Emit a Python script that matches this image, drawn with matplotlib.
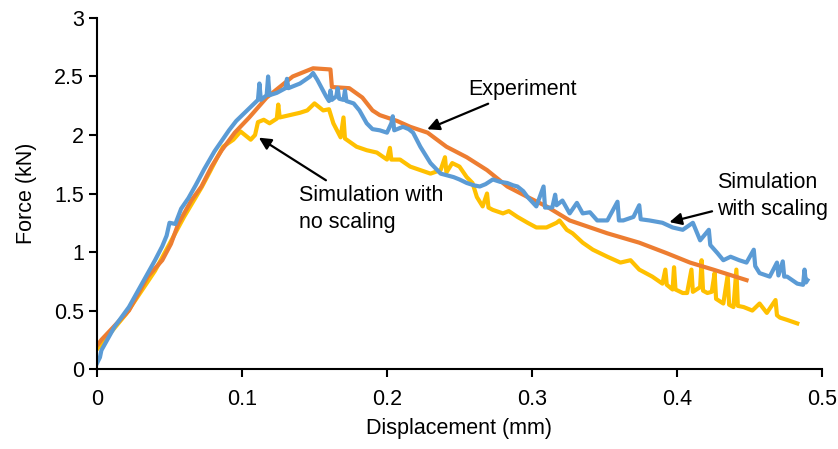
import numpy as np
from matplotlib import pyplot as plt
from matplotlib.ticker import FuncFormatter

# Experiment (orange)
exp_x = [0.000, 0.003, 0.022, 0.035, 0.045, 0.051, 0.056, 0.065, 0.072, 0.079,
         0.086, 0.095, 0.105, 0.117, 0.135, 0.149, 0.161, 0.162, 0.174, 0.183,
         0.190, 0.195, 0.207, 0.216, 0.228, 0.241, 0.255, 0.269, 0.283, 0.297,
         0.310, 0.326, 0.352, 0.374, 0.393, 0.409, 0.425, 0.448]
exp_y = [0.20, 0.25, 0.50, 0.79, 0.93, 1.07, 1.24, 1.44, 1.56, 1.73,
         1.87, 2.02, 2.15, 2.32, 2.50, 2.57, 2.56, 2.41, 2.40, 2.32,
         2.21, 2.17, 2.12, 2.07, 2.02, 1.90, 1.81, 1.70, 1.56, 1.47,
         1.39, 1.27, 1.16, 1.08, 0.99, 0.91, 0.85, 0.76]

# Simulation with scaling (blue)
scl_x = [0.000, 0.002, 0.003, 0.012, 0.022, 0.031, 0.040, 0.045, 0.048, 0.050,
         0.054, 0.058, 0.063, 0.068, 0.074, 0.081, 0.091, 0.096, 0.106, 0.111,
         0.112, 0.113, 0.117, 0.118, 0.119, 0.124, 0.130, 0.131, 0.132, 0.140,
         0.147, 0.149, 0.152, 0.155, 0.158, 0.160, 0.161, 0.162, 0.165, 0.166,
         0.167, 0.170, 0.171, 0.172, 0.177, 0.181, 0.186, 0.190, 0.195, 0.200,
         0.203, 0.204, 0.205, 0.211, 0.215, 0.218, 0.223, 0.230, 0.237, 0.246,
         0.250, 0.255, 0.260, 0.264, 0.268, 0.273, 0.278, 0.283, 0.287, 0.290,
         0.294, 0.297, 0.303, 0.308, 0.309, 0.314, 0.316, 0.317, 0.321, 0.326,
         0.331, 0.335, 0.340, 0.345, 0.352, 0.359, 0.360, 0.363, 0.370, 0.374,
         0.375, 0.381, 0.390, 0.397, 0.404, 0.411, 0.416, 0.422, 0.423, 0.428,
         0.432, 0.437, 0.443, 0.448, 0.453, 0.454, 0.457, 0.464, 0.469, 0.470,
         0.473, 0.474, 0.476, 0.483, 0.487, 0.488, 0.489, 0.490]
scl_y = [0.05, 0.10, 0.16, 0.36, 0.53, 0.73, 0.93, 1.05, 1.14, 1.25,
         1.24, 1.37, 1.46, 1.57, 1.71, 1.86, 2.04, 2.12, 2.24, 2.30,
         2.44, 2.30, 2.34, 2.50, 2.34, 2.36, 2.40, 2.48, 2.40, 2.44,
         2.50, 2.53, 2.47, 2.40, 2.33, 2.29, 2.38, 2.30, 2.33, 2.40,
         2.31, 2.30, 2.38, 2.29, 2.27, 2.21, 2.10, 2.05, 2.04, 2.02,
         2.10, 2.16, 2.04, 2.07, 2.05, 2.02, 1.90, 1.76, 1.67, 1.64,
         1.62, 1.59, 1.57, 1.56, 1.58, 1.62, 1.60, 1.59, 1.57, 1.56,
         1.52, 1.47, 1.39, 1.56, 1.38, 1.38, 1.49, 1.40, 1.44, 1.33,
         1.42, 1.33, 1.34, 1.27, 1.27, 1.43, 1.27, 1.27, 1.30, 1.40,
         1.28, 1.27, 1.25, 1.21, 1.19, 1.25, 1.10, 1.19, 1.06, 0.99,
         0.93, 0.96, 0.93, 0.91, 1.02, 0.88, 0.82, 0.79, 0.91, 0.80,
         0.92, 0.79, 0.79, 0.73, 0.72, 0.85, 0.74, 0.76]

# Simulation with no scaling (yellow)
nos_x = [0.000, 0.020, 0.040, 0.060, 0.072, 0.078, 0.083, 0.087, 0.094, 0.099,
         0.106, 0.109, 0.111, 0.115, 0.119, 0.124, 0.125, 0.126, 0.133, 0.140,
         0.145, 0.150, 0.156, 0.160, 0.163, 0.168, 0.170, 0.171, 0.179, 0.186,
         0.193, 0.200, 0.202, 0.203, 0.209, 0.216, 0.223, 0.230, 0.237, 0.240,
         0.241, 0.245, 0.250, 0.255, 0.259, 0.262, 0.266, 0.269, 0.270, 0.273,
         0.280, 0.284, 0.290, 0.297, 0.303, 0.310, 0.317, 0.319, 0.324, 0.328,
         0.335, 0.342, 0.352, 0.361, 0.368, 0.374, 0.383, 0.390, 0.392, 0.393,
         0.397, 0.398, 0.399, 0.404, 0.407, 0.410, 0.411, 0.416, 0.417, 0.418,
         0.421, 0.424, 0.426, 0.427, 0.432, 0.435, 0.436, 0.439, 0.441, 0.442,
         0.446, 0.452, 0.457, 0.462, 0.468, 0.469, 0.471, 0.476, 0.483]
nos_y = [0.17, 0.47, 0.84, 1.30, 1.55, 1.69, 1.81, 1.90, 1.96, 2.03,
         1.96, 2.00, 2.11, 2.13, 2.10, 2.14, 2.26, 2.15, 2.17, 2.19,
         2.21, 2.27, 2.21, 2.22, 2.10, 1.98, 2.15, 1.97, 1.90, 1.87,
         1.85, 1.79, 1.89, 1.79, 1.79, 1.73, 1.70, 1.67, 1.70, 1.81,
         1.68, 1.76, 1.73, 1.64, 1.59, 1.47, 1.39, 1.50, 1.38, 1.36,
         1.33, 1.35, 1.30, 1.25, 1.21, 1.21, 1.25, 1.27, 1.19, 1.16,
         1.08, 1.02, 0.96, 0.91, 0.93, 0.85, 0.79, 0.73, 0.85, 0.72,
         0.68, 0.87, 0.68, 0.65, 0.65, 0.85, 0.66, 0.70, 0.93, 0.67,
         0.65, 0.66, 0.82, 0.60, 0.56, 0.80, 0.55, 0.53, 0.85, 0.54,
         0.53, 0.50, 0.56, 0.48, 0.59, 0.46, 0.44, 0.42, 0.39]

plt.rcParams['font.family'] = ['Liberation Sans', 'DejaVu Sans']
fs = 15.5

fig = plt.figure(figsize=(8.38, 4.49), dpi=100)
ax = fig.add_axes([0.1158, 0.178, 0.865, 0.782])

lw = 3.0
ax.plot(nos_x, nos_y, color='#FFC000', linewidth=lw, solid_joinstyle='round')
ax.plot(exp_x, exp_y, color='#ED7D31', linewidth=lw, solid_joinstyle='round')
ax.plot(scl_x, scl_y, color='#5B9BD5', linewidth=lw, solid_joinstyle='round')

ax.set_xlim(0, 0.5)
ax.set_ylim(0, 3)
ax.set_xticks(np.arange(0, 0.51, 0.1))
ax.set_yticks(np.arange(0, 3.01, 0.5))
fmt = FuncFormatter(lambda v, p: f"{v:g}")
ax.xaxis.set_major_formatter(fmt)
ax.yaxis.set_major_formatter(fmt)
ax.tick_params(labelsize=fs, width=1.5, length=6, direction='out')
ax.tick_params(axis='x', pad=8)
for s in ['top', 'right']:
    ax.spines[s].set_visible(False)
for s in ['left', 'bottom']:
    ax.spines[s].set_linewidth(1.5)

ax.set_xlabel('Displacement (mm)', fontsize=fs, labelpad=6)
ax.set_ylabel('Force (kN)', fontsize=fs, labelpad=12)

arrow = dict(arrowstyle='-|>', color='black', lw=1.6, mutation_scale=18)
ax.annotate('Experiment', xy=(0.226, 2.04), xytext=(0.256, 2.39),
            fontsize=fs, va='center', ha='left', arrowprops=arrow)
ax.annotate('Simulation with\nno scaling', xy=(0.110, 1.99), xytext=(0.139, 1.37),
            fontsize=fs, va='center', ha='left', linespacing=1.4, arrowprops=arrow)
ax.annotate('Simulation\nwith scaling', xy=(0.393, 1.25), xytext=(0.428, 1.48),
            fontsize=fs, va='center', ha='left', linespacing=1.4, arrowprops=arrow)

plt.savefig('out.png', dpi=100)
plt.close()
